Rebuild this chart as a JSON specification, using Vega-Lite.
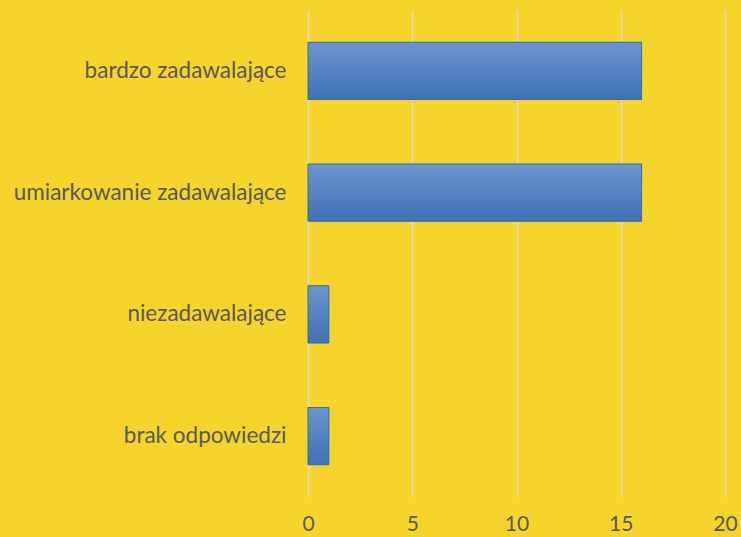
{
  "$schema": "https://vega.github.io/schema/vega-lite/v6.json",
  "width": 417,
  "height": 487,
  "autosize": "none",
  "padding": {"left": 308, "top": 10, "right": 16, "bottom": 40},
  "background": "#F5D42C",
  "data": {"values": [
    {"kategoria": "bardzo zadawalające", "liczba": 16},
    {"kategoria": "umiarkowanie zadawalające", "liczba": 16},
    {"kategoria": "niezadawalające", "liczba": 1},
    {"kategoria": "brak odpowiedzi", "liczba": 1}
  ]},
  "mark": {
    "type": "bar",
    "color": {"gradient": "linear", "x1": 0, "y1": 0, "x2": 0, "y2": 1,
      "stops": [{"offset": 0, "color": "#6B95CF"}, {"offset": 1, "color": "#3F72B6"}]},
    "stroke": "#3A68A8",
    "strokeWidth": 1
  },
  "encoding": {
    "y": {"field": "kategoria", "type": "nominal", "sort": null,
      "scale": {"paddingInner": 0.53, "paddingOuter": 0.265},
      "axis": {"title": null, "ticks": false, "domain": false, "labelFontSize": 22.5, "labelFont": "Lato", "labelColor": "#595959", "labelPadding": 22, "labelLimit": 320}},
    "x": {"field": "liczba", "type": "quantitative",
      "scale": {"domain": [0, 20]},
      "axis": {"title": null, "values": [0, 5, 10, 15, 20], "ticks": false, "domain": false, "grid": true, "gridColor": "#DEDAD0", "gridWidth": 1.5, "labelFlush": false, "labelFontSize": 21, "labelFont": "Lato", "labelColor": "#595959", "labelPadding": 16}}
  },
  "config": {"view": {"stroke": null}}
}
